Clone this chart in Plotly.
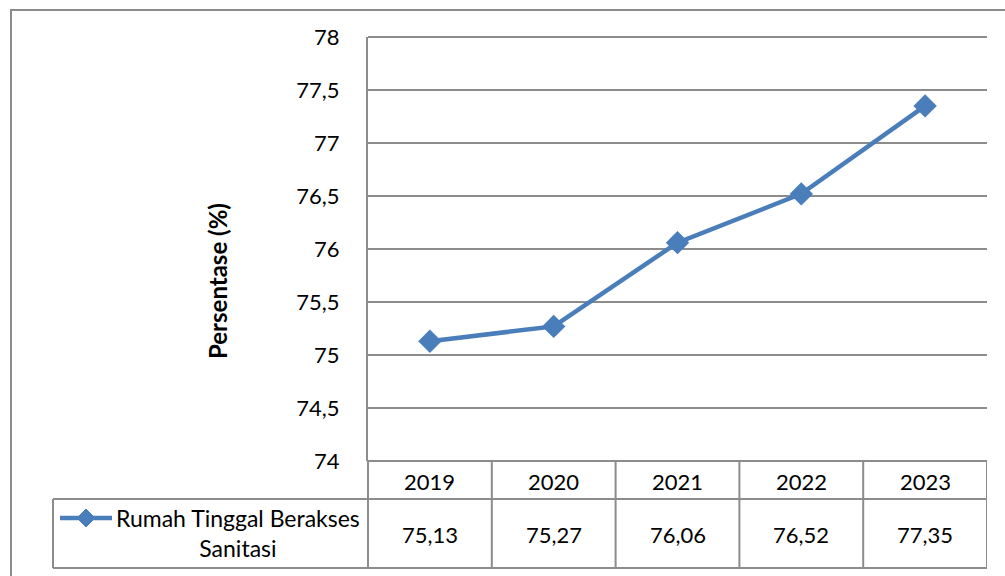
import plotly.graph_objects as go

years = ["2019", "2020", "2021", "2022", "2023"]
values = [75.13, 75.27, 76.06, 76.52, 77.35]
series_name = "Rumah Tinggal Berakses<br>Sanitasi"
y_title = "Persentase (%)"
y_ticks = [74, 74.5, 75, 75.5, 76, 76.5, 77, 77.5, 78]

W, H = 1005, 576
def px(x): return x / W
def py(y): return 1 - y / H

FONT = "Lato"
FS = 22
BLUE = "#4A7EBB"
GRID = "#8C8C8C"

def fmt(v):
    s = ("%g" % v)
    return s.replace(".", ",")

xs = list(range(len(years)))

fig = go.Figure()
fig.add_trace(go.Scatter(
    x=xs, y=values, mode="lines+markers",
    line=dict(color=BLUE, width=4.5),
    marker=dict(symbol="diamond", size=18, color=BLUE),
    showlegend=False, cliponaxis=False, hoverinfo="skip",
))

# plot-area geometry (pixels)
plot_left, plot_right, plot_top, plot_bot = 368, 987, 37, 461
row_top, row_mid, row_bot = plot_bot, 499, 568
left_cell = 53

shapes = []
# outer chart border
shapes.append(dict(type="rect", xref="paper", yref="paper",
                   x0=px(11), x1=px(1012), y0=py(583), y1=py(10),
                   line=dict(color=GRID, width=2), fillcolor="rgba(0,0,0,0)", layer="below"))
# gridlines at the range ends
for yy in (plot_top, plot_bot):
    shapes.append(dict(type="line", xref="paper", yref="paper",
                       x0=px(plot_left), x1=px(plot_right), y0=py(yy), y1=py(yy),
                       line=dict(color=GRID, width=2)))
# table rows
for yy in (row_mid, row_bot):
    shapes.append(dict(type="line", xref="paper", yref="paper",
                       x0=px(left_cell), x1=px(plot_right), y0=py(yy), y1=py(yy),
                       line=dict(color=GRID, width=2)))
shapes.append(dict(type="line", xref="paper", yref="paper",
                   x0=px(left_cell), x1=px(left_cell), y0=py(row_mid), y1=py(row_bot),
                   line=dict(color=GRID, width=2)))
# axis line extending through table
shapes.append(dict(type="line", xref="paper", yref="paper",
                   x0=px(plot_left), x1=px(plot_left), y0=py(row_top), y1=py(row_bot),
                   line=dict(color=GRID, width=2)))
# column boundaries from the category axis
for i in range(1, len(years) + 1):
    shapes.append(dict(type="line", xref="x", yref="paper",
                       x0=i - 0.5, x1=i - 0.5, y0=py(row_top), y1=py(row_bot),
                       line=dict(color=GRID, width=2)))
# legend key line + diamond
ky = 518
shapes.append(dict(type="line", xref="paper", yref="paper",
                   x0=px(60), x1=px(112), y0=py(ky), y1=py(ky),
                   line=dict(color=BLUE, width=4.5)))
cx, r = 86, 9
shapes.append(dict(type="path", xref="paper", yref="paper",
                   path=f"M {px(cx-r)} {py(ky)} L {px(cx)} {py(ky-r)} L {px(cx+r)} {py(ky)} L {px(cx)} {py(ky+r)} Z",
                   fillcolor=BLUE, line=dict(color=BLUE, width=1)))

annotations = []
for i, (yr, v) in enumerate(zip(years, values)):
    annotations.append(dict(x=i, y=py(481), xref="x", yref="paper", text=yr,
                            xanchor="center", yanchor="middle",
                            showarrow=False, font=dict(family=FONT, size=FS, color="black")))
    annotations.append(dict(x=i, y=py(534), xref="x", yref="paper", text=fmt(v),
                            xanchor="center", yanchor="middle",
                            showarrow=False, font=dict(family=FONT, size=FS, color="black")))
annotations.append(dict(x=px(238), y=py(533), xref="paper", yref="paper", text=series_name,
                        showarrow=False, align="center", xanchor="center", yanchor="middle",
                        font=dict(family=FONT, size=FS + 1, color="black")))
annotations.append(dict(x=px(217), y=py(281), xref="paper", yref="paper", text="<b>" + y_title + "</b>",
                        showarrow=False, textangle=-90, xanchor="center", yanchor="middle",
                        font=dict(family=FONT, size=FS + 2, color="black")))

fig.update_layout(
    width=W, height=H, autosize=False,
    margin=dict(l=0, r=0, t=0, b=0, pad=0, autoexpand=False),
    paper_bgcolor="white", plot_bgcolor="white",
    font=dict(family=FONT, size=FS, color="black"),
    xaxis=dict(domain=[px(plot_left), px(plot_right)], range=[-0.5, len(years) - 0.5], automargin=False,
               showgrid=False, showticklabels=False, zeroline=False, showline=False, ticks=""),
    yaxis=dict(domain=[py(plot_bot), py(plot_top)], range=[74, 78], automargin=False,
               tickvals=y_ticks, ticktext=[fmt(t) for t in y_ticks],
               showgrid=True, gridcolor=GRID, gridwidth=2,
               showline=True, linecolor=GRID, linewidth=2,
               zeroline=False, ticks="", ticklabelstandoff=22,
               tickfont=dict(family=FONT, size=FS, color="black")),
    shapes=shapes, annotations=annotations,
)

fig.write_html("out.html", config={"displayModeBar": False},
               post_script="document.body.style.margin='0';")
